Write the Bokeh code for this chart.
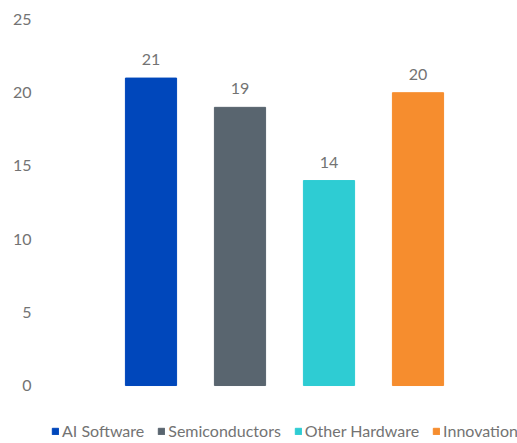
from bokeh.plotting import figure
from bokeh.models import ColumnDataSource, FactorRange, Range1d, FixedTicker, LabelSet, Legend, LegendItem
from bokeh.embed import file_html
from bokeh.resources import INLINE
from bokeh.core.properties import value

categories = ["AI Software", "Semiconductors", "Other Hardware", "Innovation"]
values = [21, 19, 14, 20]
colors = ["#0047BB", "#59656F", "#2ECCD3", "#F68D2E"]
y_ticks = [0, 5, 10, 15, 20, 25]

FONT = "Lato"
TXT = "#737373"

src = ColumnDataSource(dict(cat=categories, val=values, color=colors,
                            lbl=[str(v) for v in values]))

# frame spans the legend strip too, so the legend is not clipped
p = figure(x_range=FactorRange(*categories, range_padding=0.618,
                               range_padding_units="absolute"),
           y_range=Range1d(-3.96, 25),
           width=517, height=443, output_backend="svg", toolbar_location=None,
           min_border_left=51, min_border_right=0, min_border_top=19, min_border_bottom=0)
p.outline_line_color = None
p.xgrid.grid_line_color = None
p.ygrid.grid_line_color = None
p.xaxis.visible = False

p.yaxis.ticker = FixedTicker(ticks=y_ticks)
p.yaxis.axis_line_color = None
p.yaxis.major_tick_line_color = None
p.yaxis.minor_tick_line_color = None
p.yaxis.major_label_standoff = 14
p.yaxis.major_label_text_font = FONT
p.yaxis.major_label_text_font_size = "16px"
p.yaxis.major_label_text_color = TXT

r = p.vbar(x="cat", top="val", width=0.575, color="color", source=src)

labels = LabelSet(x="cat", y="val", text="lbl", source=src, y_offset=13,
                  text_align="center", text_baseline="bottom",
                  text_font=value(FONT), text_font_size="16px", text_color=TXT)
p.add_layout(labels)

items = [LegendItem(label=c, renderers=[r], index=i) for i, c in enumerate(categories)]
legend = Legend(items=items, orientation="horizontal", location=(0, 3),
                border_line_color=None, background_fill_alpha=0,
                glyph_width=8, glyph_height=8, label_standoff=3, spacing=13,
                padding=0, margin=0,
                label_text_font=FONT, label_text_font_size="16px", label_text_color=TXT)
p.add_layout(legend)

open("out.html", "w").write(file_html(p, INLINE))
